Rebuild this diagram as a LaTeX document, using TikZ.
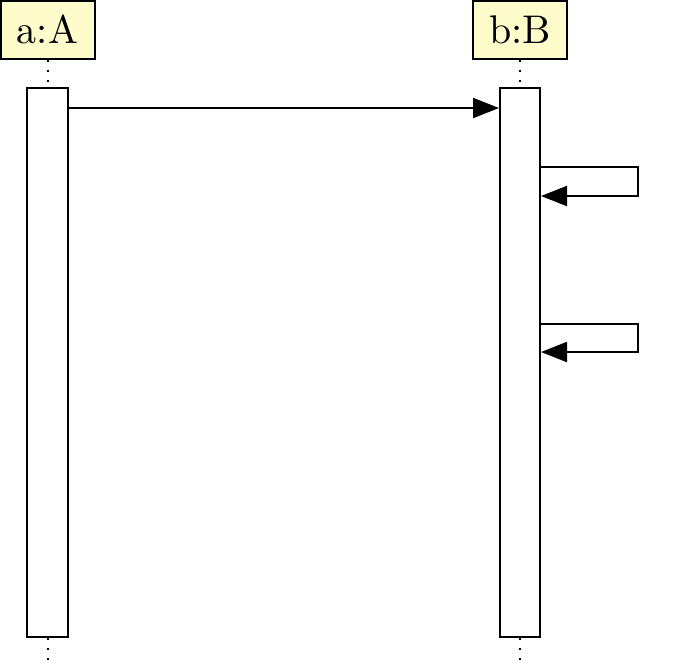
\documentclass[tikz,border=0pt]{standalone}
\usetikzlibrary{arrows.meta}
\begin{document}
\begin{tikzpicture}[x=0.25pt,y=-0.25pt,
  objbox/.style={draw,fill=yellow!20,line width=0.5pt,inner sep=0pt,minimum width=23.5pt,minimum height=14.5pt},
  actbar/.style={draw,fill=white,line width=0.5pt,inner sep=0pt,minimum height=137.25pt},
  msg/.style={line width=0.5pt,-{Triangle[length=6.5pt,width=5pt]}},
  life/.style={dotted,line width=0.5pt}]
\useasboundingbox (0,0) rectangle (684,668);
\node[objbox] (A) at (47.5,29.5) {a:A};
\node[objbox] (B) at (520,29.5) {b:B};
\node[actbar,minimum width=10.25pt] (barA) at (47.5,362.5) {};
\node[actbar,minimum width=10pt] (barB) at (520,362.5) {};
\coordinate (endA) at (47.5,661);
\coordinate (endB) at (520,661);
\draw[life] (A.south) -- (barA.north);
\draw[life] (B.south) -- (barB.north);
\draw[life] (barA.south) -- (endA);
\draw[life] (barB.south) -- (endB);
\coordinate (m1) at (0,108);
\draw[msg] (barA.east |- m1) -- (barB.west |- m1);
\coordinate (s1a) at (0,167);
\coordinate (s1b) at (638,196);
\draw[msg] (barB.east |- s1a) -| (s1b) -- (barB.east |- s1b);
\coordinate (s2a) at (0,324);
\coordinate (s2b) at (638,352);
\draw[msg] (barB.east |- s2a) -| (s2b) -- (barB.east |- s2b);
\end{tikzpicture}
\end{document}
